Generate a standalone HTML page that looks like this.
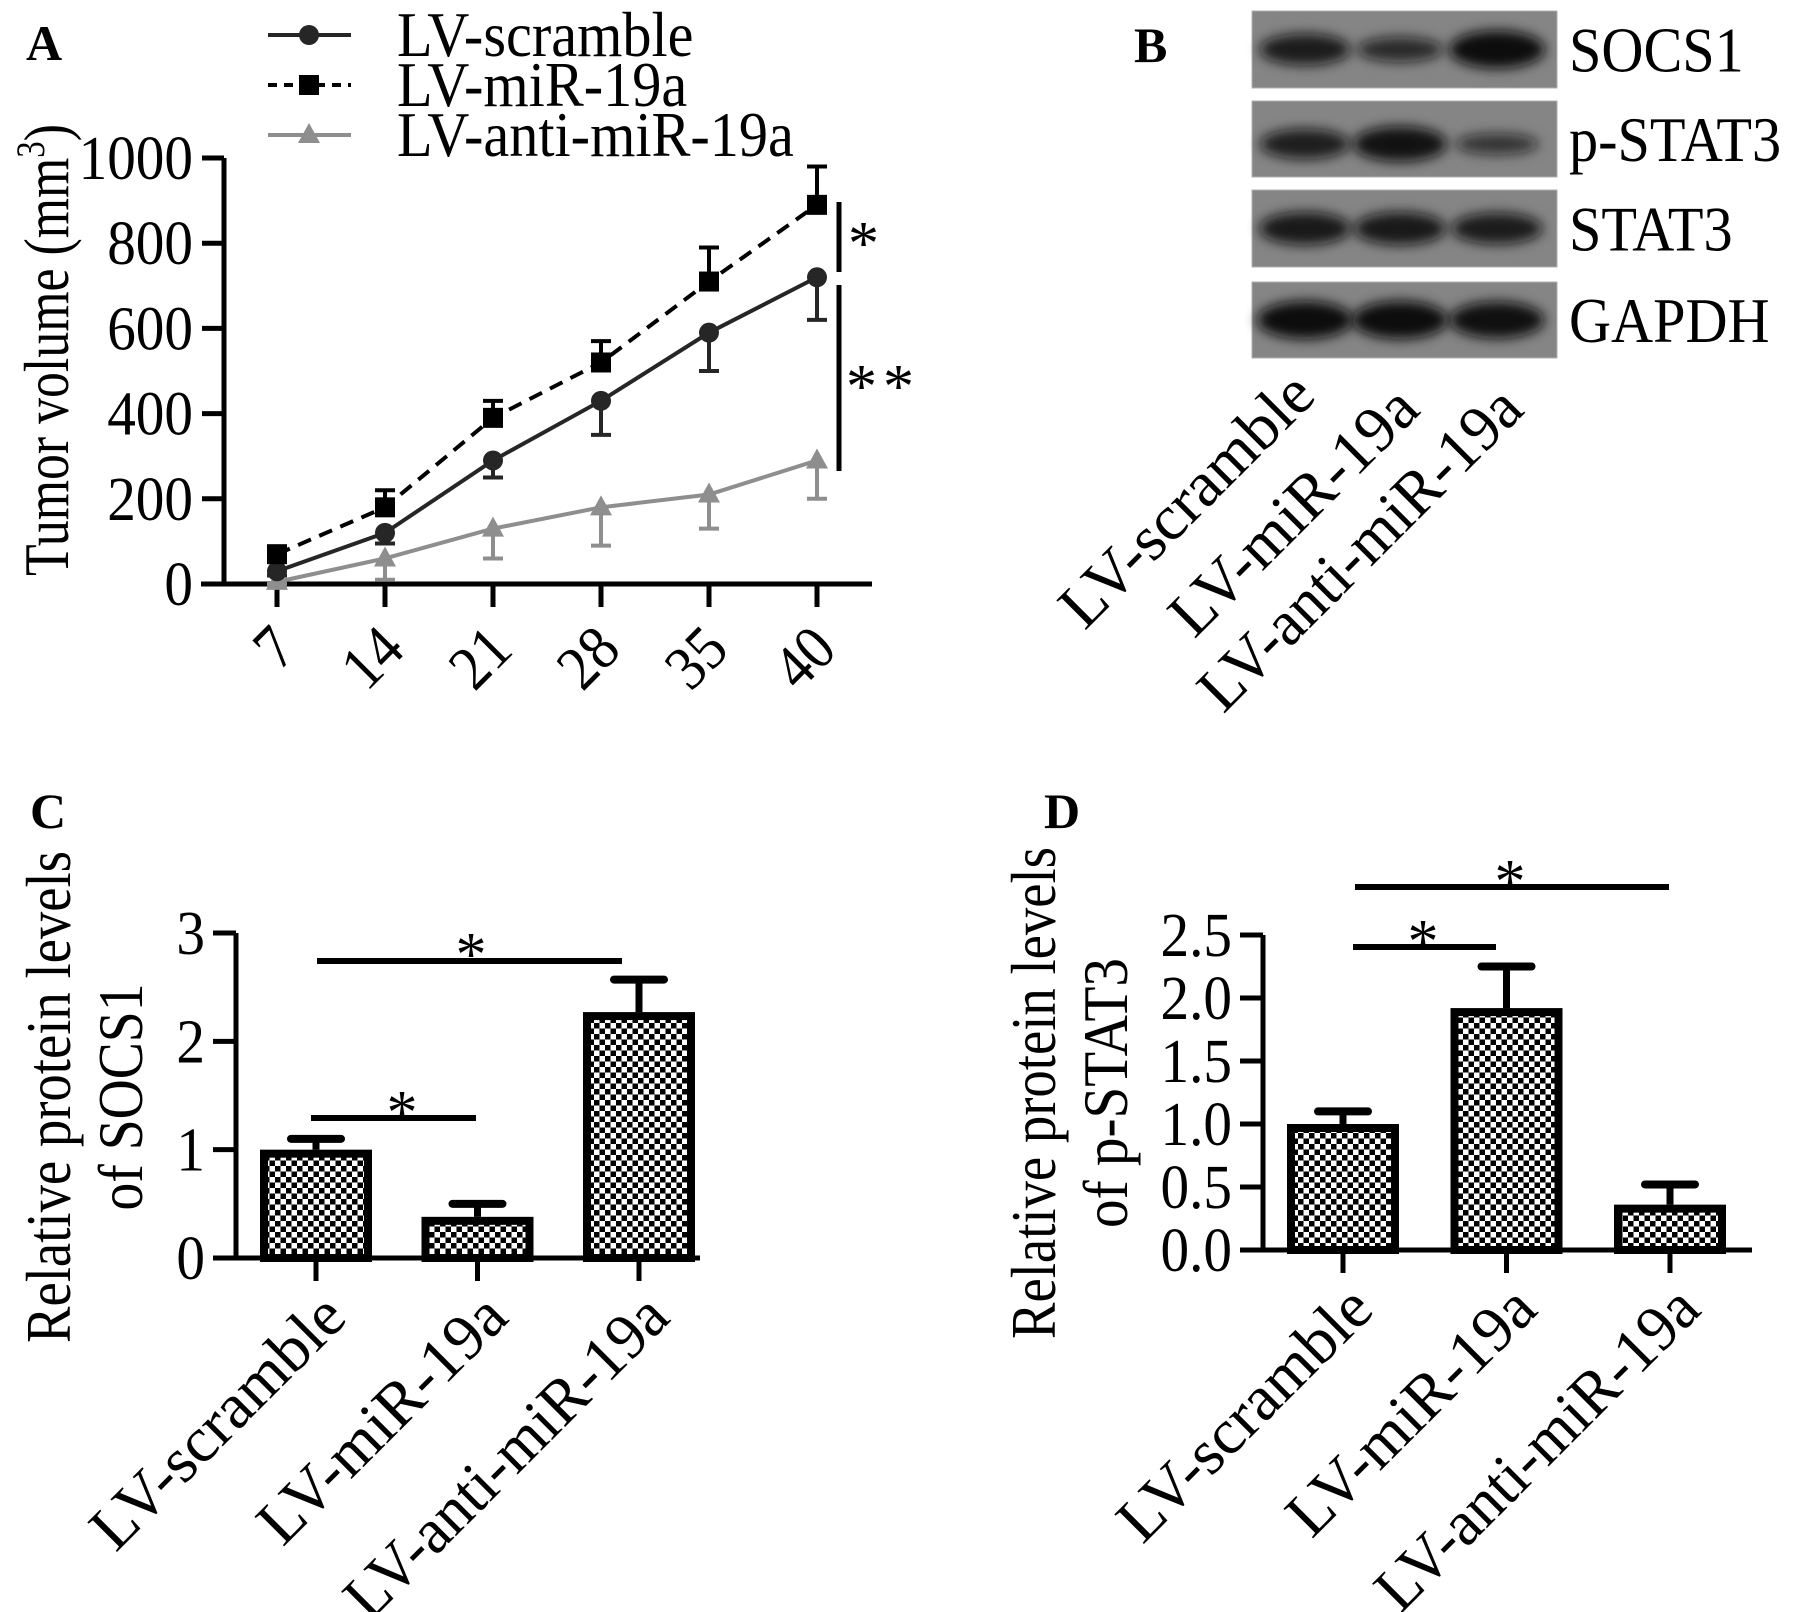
<!DOCTYPE html>
<html><head><meta charset="utf-8"><style>
html,body{margin:0;padding:0;background:#fff;}
svg{display:block;font-family:"Liberation Serif","Times New Roman",serif;}
</style></head><body>
<svg id="fig" xmlns="http://www.w3.org/2000/svg" width="1795" height="1612" viewBox="0 0 1795 1612">
<defs>
<pattern id="chk" width="11" height="11" patternUnits="userSpaceOnUse">
<rect width="11" height="11" fill="#fff"/><rect x="0" y="0" width="5.5" height="5.5" fill="#000"/><rect x="5.5" y="5.5" width="5.5" height="5.5" fill="#000"/>
</pattern>
<filter id="blur" x="-30%" y="-80%" width="160%" height="260%"><feGaussianBlur stdDeviation="6"/></filter>
</defs>
<g font-weight="bold" font-size="50">
<text x="26" y="60">A</text>
<text x="1134" y="62">B</text>
<text x="30" y="828">C</text>
<text x="1044" y="828">D</text>
</g>
<g id="panelA"></g>
<g id="panelB"></g>
<g id="panelC"></g>
<g id="panelD"></g>
</svg>
<script>
const daysA = ['7','14','21','28','35','40'];
const yTicksA = [0,200,400,600,800,1000];
const scrambleVals = [30,120,290,430,590,720];
const scrambleErr = [10,25,40,80,90,100];
const mirVals = [70,180,390,520,710,890];
const mirErr = [10,40,40,50,80,90];
const antiVals = [5,60,130,180,210,290];
const antiErr = [5,50,70,90,80,90];
const groups = ['LV-scramble','LV-miR-19a','LV-anti-miR-19a'];
const socsVals = [1.0,0.38,2.27];
const socsErr = [0.1,0.12,0.3];
const yTicksC = [0,1,2,3];
const pstatVals = [1.0,1.92,0.36];
const pstatErr = [0.1,0.33,0.16];
const yTicksD = [0,0.5,1.0,1.5,2.0,2.5];
const blotRows = ['SOCS1','p-STAT3','STAT3','GAPDH'];
const blotIntensity = [[0.75,0.5,1.0],[0.7,0.9,0.35],[0.8,0.8,0.75],[1.0,1.0,0.95]];

const NS='http://www.w3.org/2000/svg';
function mk(parent,tag,attrs,text){const e=document.createElementNS(NS,tag);for(const k in attrs)e.setAttribute(k,attrs[k]);if(text!==undefined)e.textContent=text;parent.appendChild(e);return e;}
const LW=5;

/* ---------- Panel A ---------- */
const A=document.getElementById('panelA');
const xA=i=>277+i*108;
const yA=v=>584-v*0.426;
let el;
el=mk(A,'line',{x1:224,y1:yA(1000),x2:224,y2:584,stroke:'#000','stroke-width':LW});


el=mk(A,'line',{x1:201,y1:584,x2:872,y2:584,stroke:'#000','stroke-width':LW});


yTicksA.forEach(t=>{
  el=mk(A,'line',{x1:202,y1:yA(t),x2:224,y2:yA(t),stroke:'#000','stroke-width':LW});
  
  
  el=mk(A,'text',{x:193,y:yA(t)+21,'text-anchor':'end','font-size':55,'class':'cond'},String(t));
  
  
});
daysA.forEach((d,i)=>{
  el=mk(A,'line',{x1:xA(i),y1:584,x2:xA(i),y2:607,stroke:'#000','stroke-width':LW});
  
  
  const tx=xA(i)+22, ty=652;
  el=mk(A,'text',{x:tx,y:ty,'text-anchor':'end','font-size':55,'class':'cond',transform:`rotate(-45 ${tx} ${ty})`},d);
  
  
});
el=mk(A,'text',{x:0,y:0,'font-size':63,'text-anchor':'middle',textLength:452,lengthAdjust:'spacingAndGlyphs',transform:'translate(68 350) rotate(-90)'});


el.innerHTML='Tumor volume (mm<tspan dy="-24" font-size="40">3</tspan><tspan dy="24">)</tspan>';

function series(vals,errs,dir,color,dash,marker,name){
  const g=mk(A,'g',{});
  
  
  vals.forEach((v,i)=>{
    const y0=yA(v), y1=yA(v+dir*errs[i]);
    el=mk(g,'line',{x1:xA(i),y1:y0,x2:xA(i),y2:y1,stroke:color,'stroke-width':4});
    
    
    el=mk(g,'line',{x1:xA(i)-10,y1:y1,x2:xA(i)+10,y2:y1,stroke:color,'stroke-width':4});
    
    
  });
  const pts=vals.map((v,i)=>xA(i)+','+yA(v)).join(' ');
  el=mk(g,'polyline',{points:pts,fill:'none',stroke:color,'stroke-width':4,'stroke-dasharray':dash});
  
  
  vals.forEach((v,i)=>{
    const m=drawMarker(g,marker,xA(i),yA(v),color);
    
    
  });
}
function drawMarker(g,marker,x,y,color){
  if(marker==='circle')return mk(g,'circle',{cx:x,cy:y,r:10,fill:color});
  if(marker==='square')return mk(g,'rect',{x:x-10,y:y-10,width:20,height:20,fill:color});
  return mk(g,'polygon',{points:`${x},${y-12} ${x-11},${y+8} ${x+11},${y+8}`,fill:color});
}
series(antiVals,antiErr,-1,'#8e8e8e','none','triangle','series-lv-anti-mir-19a');
series(scrambleVals,scrambleErr,-1,'#262626','none','circle','series-lv-scramble');
series(mirVals,mirErr,1,'#000','14 9','square','series-lv-mir-19a');

el=mk(A,'line',{x1:839,y1:202,x2:839,y2:272,stroke:'#000','stroke-width':5});


el=mk(A,'text',{x:848,y:264,'font-size':62},'*');


el=mk(A,'line',{x1:839,y1:285,x2:839,y2:471,stroke:'#000','stroke-width':5});


el=mk(A,'text',{x:846,y:407,'font-size':62,'letter-spacing':'6'},'**');



/* legend */
const legend=mk(A,'g',{});


const legRows=[['LV-scramble','#262626','none','circle'],['LV-miR-19a','#000','9 7','square'],['LV-anti-miR-19a','#8e8e8e','none','triangle']];
legRows.forEach((r,i)=>{
  const y=35+i*50;
  el=mk(legend,'line',{x1:268,y1:y,x2:351,y2:y,stroke:r[1],'stroke-width':4,'stroke-dasharray':r[2]});
  
  
  el=drawMarker(legend,r[3],309,y,r[1]);
  
  
  el=mk(legend,'text',{x:397,y:y+21,'font-size':56,'class':'cond'},r[0]);
  
  
});

/* ---------- Panel B ---------- */
const B=document.getElementById('panelB');
const rowTop=[11,101,190,282], rowH=[77,76,77,76];
const laneX=[1305,1400,1497];
blotRows.forEach((name,r)=>{
  const g=mk(B,'g',{});
  
  
  el=mk(g,'rect',{x:1252,y:rowTop[r],width:305,height:rowH[r],fill:'#858585',stroke:'#b0b0b0','stroke-width':1});
  
  
  blotIntensity[r].forEach((k,l)=>{
    const cy=rowTop[r]+rowH[r]/2+(r===1?5:0);
    el=mk(g,'ellipse',{cx:laneX[l],cy:cy,rx:38+10*k,ry:6+13*k,fill:'#101010','fill-opacity':0.55+0.45*k,filter:'url(#blur)'});
    
    
  });
  el=mk(g,'text',{x:1569,y:rowTop[r]+rowH[r]/2+22,'font-size':56,'class':'cond'},name);
  
  
});
const bEnds=[[1318,398,330],[1422,412,322],[1526,412,428]];
groups.forEach((gname,i)=>{
  const [tx,ty,len]=bEnds[i];
  el=mk(B,'text',{x:tx,y:ty,'text-anchor':'end','font-size':64,textLength:len,lengthAdjust:'spacingAndGlyphs',transform:`rotate(-45 ${tx} ${ty})`},gname);
  
  
});

/* ---------- Bar panels ---------- */
function barPanel(root,cfg){
  const {x0,x1,axisY,topY,yMax,vals,errs,ticks,fmt,cx0,dx,labelEnd,brackets,title1,title2,tb1,tb2,tcy,len1,len2}=cfg;
  const sc=(axisY-topY)/yMax;
  const yS=v=>axisY-v*sc;
  const xS=i=>cx0+i*dx;
  el=mk(root,'line',{x1:x0,y1:topY,x2:x0,y2:axisY,stroke:'#000','stroke-width':LW});
  
  
  el=mk(root,'line',{x1:x0-23,y1:axisY,x2:x1,y2:axisY,stroke:'#000','stroke-width':LW});
  
  
  ticks.forEach(t=>{
    el=mk(root,'line',{x1:x0-23,y1:yS(t),x2:x0,y2:yS(t),stroke:'#000','stroke-width':LW});
    
    
    el=mk(root,'text',{x:x0-31,y:yS(t)+21,'text-anchor':'end','font-size':55,'class':'cond'},fmt(t));
    
    
  });
  vals.forEach((v,i)=>{
    const x=xS(i);
    const top=yS(v+errs[i]);
    el=mk(root,'line',{x1:x,y1:yS(v),x2:x,y2:top,stroke:'#000','stroke-width':7});
    
    
    el=mk(root,'line',{x1:x-25,y1:top,x2:x+25,y2:top,stroke:'#000','stroke-width':8,'stroke-linecap':'round'});
    
    
    el=mk(root,'rect',{x:x-52,y:yS(v)+4,width:104,height:Math.max(0,axisY-yS(v)-4),fill:'url(#chk)',stroke:'#000','stroke-width':8});
    
    
    el=mk(root,'line',{x1:x,y1:axisY,x2:x,y2:axisY+23,stroke:'#000','stroke-width':LW});
    
    
    const tx=x+33, ty=axisY+62;
    el=mk(root,'text',{x:tx,y:ty,'text-anchor':'end','font-size':64,textLength:labelEnd[i],lengthAdjust:'spacingAndGlyphs',transform:`rotate(-45 ${tx} ${ty})`},groups[i]);
    
    
  });
  brackets.forEach(b=>{
    el=mk(root,'line',{x1:b[0],y1:b[2],x2:b[1],y2:b[2],stroke:'#000','stroke-width':6});
    
    
    el=mk(root,'text',{x:b[3],y:b[4]+30,'text-anchor':'middle','font-size':62},'*');
    
    
  });
  el=mk(root,'text',{x:0,y:0,'font-size':63,'text-anchor':'middle',textLength:len1,lengthAdjust:'spacingAndGlyphs',transform:`translate(${tb1} ${tcy}) rotate(-90)`},title1);
  
  
  el=mk(root,'text',{x:0,y:0,'font-size':63,'text-anchor':'middle',textLength:len2,lengthAdjust:'spacingAndGlyphs',transform:`translate(${tb2} ${tcy}) rotate(-90)`},title2);
  
  
}
barPanel(document.getElementById('panelC'),{
  x0:236,x1:700,axisY:1258,topY:933,yMax:3,vals:socsVals,errs:socsErr,ticks:yTicksC,fmt:t=>String(t),
  cx0:316,dx:161.5,labelEnd:[330,322,428],
  brackets:[[317,622,961,471,945],[311,476,1118,402,1103]],
  title1:'Relative protein levels',title2:'of SOCS1',tb1:70,tb2:142,tcy:1097,len1:492,len2:227});
barPanel(document.getElementById('panelD'),{
  x0:1263,x1:1752,axisY:1250,topY:935,yMax:2.5,vals:pstatVals,errs:pstatErr,ticks:yTicksD,fmt:t=>t.toFixed(1),
  cx0:1343,dx:163.5,labelEnd:[330,322,428],
  brackets:[[1355,1669,887,1510,872],[1353,1496,947,1423,932]],
  title1:'Relative protein levels',title2:'of p-STAT3',tb1:1055,tb2:1127,tcy:1093,len1:492,len2:270});

/* condense: taller glyphs at same width, like the reference typeface */
document.querySelectorAll('text.cond').forEach(t=>{
  const L=t.getComputedTextLength();
  const fs=parseFloat(t.getAttribute('font-size'));
  t.setAttribute('font-size',fs*1.14);
  t.setAttribute('textLength',(L*1.04).toFixed(1));
  t.setAttribute('lengthAdjust','spacingAndGlyphs');
});
</script>
</body></html>
